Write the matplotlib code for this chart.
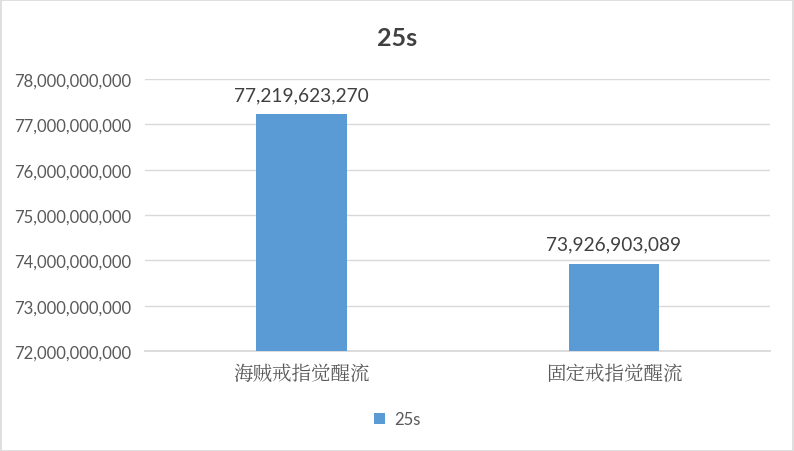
import matplotlib
matplotlib.use('Agg')
import matplotlib.pyplot as plt
from matplotlib.ticker import FuncFormatter
from matplotlib.patches import Rectangle

# data
categories = ['海贼戒指觉醒流', '固定戒指觉醒流']
values = [77219623270, 73926903089]
series_name = '25s'
yticks = [72e9, 73e9, 74e9, 75e9, 76e9, 77e9, 78e9]

bar_color = '#5B9BD5'
text_color = '#595959'
grid_color = '#D9D9D9'

plt.rcParams['font.family'] = ['Lato', 'Noto Sans CJK SC', 'DejaVu Sans']

fig = plt.figure(figsize=(7.94, 4.52), dpi=100)
ax = fig.add_axes([0.1826, 0.2212, 0.7874, 0.6018])

x = range(len(categories))
bars = ax.bar(x, values, width=0.29, color=bar_color, zorder=3, label=series_name)

# value labels above bars
for b, v in zip(bars, values):
    ax.annotate(f'{v:,}', (b.get_x() + b.get_width() / 2, v),
                xytext=(0, 8), textcoords='offset points',
                ha='center', va='bottom', fontsize=13.8, color='#404040')

ax.set_xlim(-0.5, 1.5)
ax.set_ylim(72e9, 78e9)
ax.set_yticks(yticks)
ax.yaxis.set_major_formatter(FuncFormatter(lambda v, p: f'{int(v):,}'))
ax.set_xticks(list(x))
ax.set_xticklabels(categories, family=['Noto Serif CJK SC', 'Noto Sans CJK SC'],
                   fontsize=14, color=text_color)
ax.tick_params(axis='y', labelsize=12, labelcolor=text_color, length=0, pad=10)
ax.tick_params(axis='x', length=0, pad=9)
ax.grid(axis='y', color=grid_color, linewidth=1, zorder=0)
for s in ['top', 'right', 'left']:
    ax.spines[s].set_visible(False)
ax.spines['bottom'].set_color(grid_color)
ax.spines['bottom'].set_linewidth(1.3)

fig.text(0.5, 0.915, series_name, ha='center', va='center',
         fontsize=18, fontweight='bold', color='#404040')

fig.legend(loc='center', bbox_to_anchor=(0.5, 0.07), frameon=False,
           fontsize=12, labelcolor=text_color, handlelength=0.7,
           handleheight=0.7, handletextpad=0.5)

# outer border
fig.patches.append(Rectangle((0.001, 0.001), 0.998, 0.997, transform=fig.transFigure,
                             fill=False, edgecolor='#D9D9D9', linewidth=1.2))

fig.savefig('out.png', dpi=100)
